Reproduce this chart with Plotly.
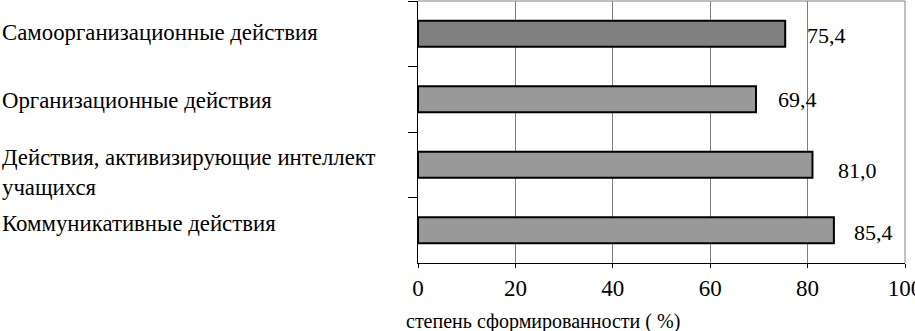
import plotly.graph_objects as go

categories = [
    "Самоорганизационные действия",
    "Организационные действия",
    "Действия, активизирующие интеллект<br>учащихся",
    "Коммуникативные действия",
]
values = [75.4, 69.4, 81.0, 85.4]
value_labels = ["75,4", "69,4", "81,0", "85,4"]
bar_colors = ["#808080", "#999999", "#999999", "#999999"]
x_ticks = [0, 20, 40, 60, 80, 100]
x_title = "степень сформированности ( %)"

FONT = "Liberation Serif"

fig = go.Figure()
fig.add_trace(go.Bar(
    y=categories, x=values, orientation="h",
    marker=dict(color=bar_colors, line=dict(color="black", width=2)),
    width=0.4, showlegend=False, hoverinfo="skip",
))

label_shift = [(20, 2), (20, 0), (24, 6), (18, 2)]
for c, v, t, (dx, dy) in zip(categories, values, value_labels, label_shift):
    fig.add_annotation(x=v, y=c, xref="x", yref="y", text=t, showarrow=False,
                       xanchor="left", yanchor="middle", xshift=dx, yshift=-dy,
                       font=dict(family=FONT, size=22, color="black"))

cat_shift = [1, -1, -8, 7]
for c, dy in zip(categories, cat_shift):
    fig.add_annotation(x=-418 / 487, y=c, xref="paper", yref="y", text=c,
                       showarrow=False, xanchor="left", yanchor="middle",
                       align="left", yshift=dy,
                       font=dict(family=FONT, size=22.8, color="black"))

fig.add_annotation(x=-14 / 487, y=0, xref="paper", yref="paper",
                   text=x_title, showarrow=False, xanchor="left", yanchor="top",
                   yshift=-45, font=dict(family=FONT, size=20, color="black"))

# top and right border (gray)
fig.add_shape(type="line", xref="paper", yref="paper", x0=0, x1=1, y0=1, y1=1,
              line=dict(color="#808080", width=1))
fig.add_shape(type="line", xref="paper", yref="paper", x0=1, x1=1, y0=0, y1=1,
              line=dict(color="#808080", width=1))

fig.update_layout(
    template="none",
    width=915, height=331,
    margin=dict(l=418, r=10, t=1, b=68, pad=0),
    paper_bgcolor="white", plot_bgcolor="white",
    bargap=0.6,
    font=dict(family=FONT, size=22, color="black"),
    xaxis=dict(range=[0, 100], tickvals=x_ticks, ticktext=[str(v) for v in x_ticks],
               showgrid=True, gridcolor="#808080", gridwidth=1,
               showline=True, linecolor="black", linewidth=1,
               ticks="outside", ticklen=4, tickcolor="black",
               zeroline=False, automargin=False, ticklabeloverflow="allow",
               tickfont=dict(family=FONT, size=23)),
    yaxis=dict(categoryorder="array", categoryarray=categories, autorange="reversed",
               showticklabels=False, showline=True, linecolor="black", linewidth=1,
               ticks="outside", ticklen=9, tickcolor="black", tickson="boundaries",
               showgrid=False, zeroline=False, automargin=False),
)

fig.write_html("out.html", config={"displayModeBar": False},
               post_script="document.body.style.margin='0';")
